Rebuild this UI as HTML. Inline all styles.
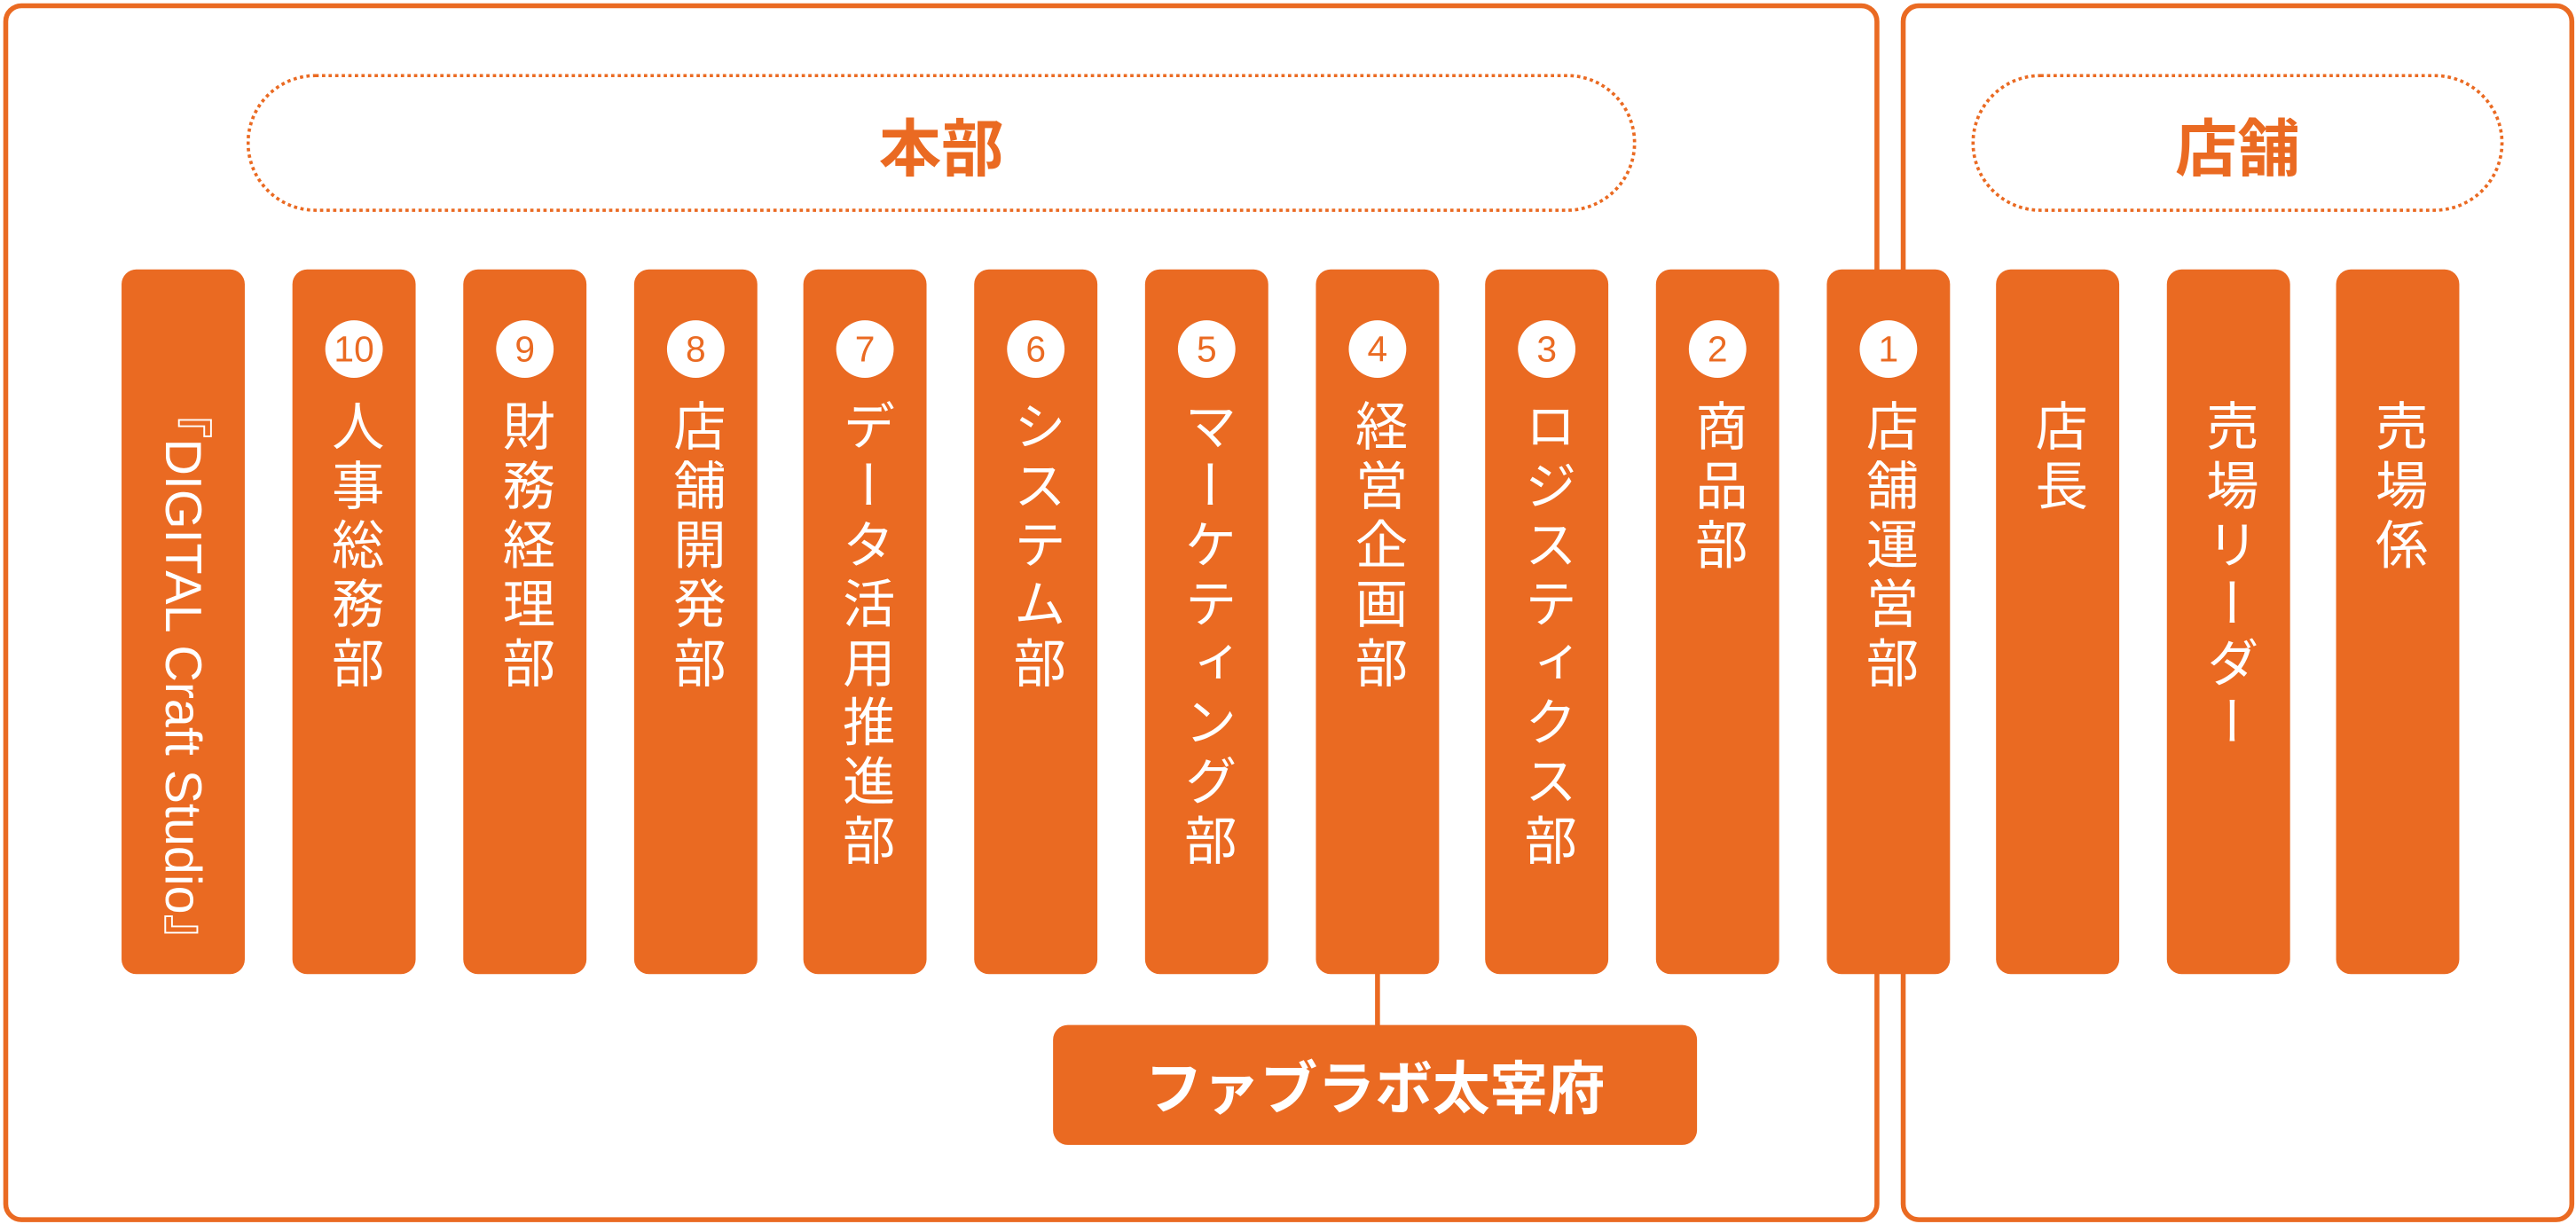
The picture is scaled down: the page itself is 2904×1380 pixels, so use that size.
<!DOCTYPE html>
<html><head><meta charset="utf-8"><style>
html,body{margin:0;padding:0;background:#fff;width:2904px;height:1380px;overflow:hidden}
#s{position:absolute;left:0;top:0;width:1568px;height:745px;transform:scale(1.8520);transform-origin:0 0;font-family:"Liberation Sans","Noto Sans CJK JP",sans-serif}
.box{position:absolute;border:3px solid #EA6A22;border-radius:11px;box-sizing:border-box}
.pill{position:absolute;border:2px dotted #EA6A22;border-radius:42px;box-sizing:border-box;color:#EA6A22;font-weight:bold;font-size:38px;display:flex;align-items:center;justify-content:center}
.col{position:absolute;top:164px;width:75px;height:429px;background:#EA6A22;border-radius:9px}
.num{position:absolute;left:20px;top:31px;width:35px;height:35px;border-radius:50%;background:#fff;color:#EA6A22;font-size:22px;line-height:35px;text-align:center}
.t{position:absolute;left:0;width:75px;top:79px;writing-mode:vertical-rl;color:#fff;font-size:32px;line-height:75px;letter-spacing:4px}
.lab{position:absolute;left:641px;top:624px;width:392px;height:73px;background:#EA6A22;border-radius:9px;color:#fff;font-weight:bold;font-size:35px;display:flex;align-items:center;justify-content:center}
</style></head><body><div id="s">
<div class="box" style="left:2px;top:2px;width:1142px;height:742px"></div>
<div class="box" style="left:1157px;top:2px;width:410px;height:742px"></div>
<div class="pill" style="left:150px;top:45px;width:846px;height:84px">本部</div>
<div class="pill" style="left:1200px;top:45px;width:324px;height:84px">店舗</div>
<div style="position:absolute;left:837px;top:590px;width:3px;height:36px;background:#EA6A22"></div>
<div class="col" style="left:74px"><div class="t" style="top:72px;font-size:31px;letter-spacing:0">『DIGITAL Craft Studio』</div></div>
<div class="col" style="left:178px"><div class="num">10</div><div class="t">人事総務部</div></div>
<div class="col" style="left:282px"><div class="num">9</div><div class="t">財務経理部</div></div>
<div class="col" style="left:386px"><div class="num">8</div><div class="t">店舗開発部</div></div>
<div class="col" style="left:489px"><div class="num">7</div><div class="t">データ活用推進部</div></div>
<div class="col" style="left:593px"><div class="num">6</div><div class="t">システム部</div></div>
<div class="col" style="left:697px"><div class="num">5</div><div class="t">マーケティング部</div></div>
<div class="col" style="left:801px"><div class="num">4</div><div class="t">経営企画部</div></div>
<div class="col" style="left:904px"><div class="num">3</div><div class="t">ロジスティクス部</div></div>
<div class="col" style="left:1008px"><div class="num">2</div><div class="t">商品部</div></div>
<div class="col" style="left:1112px"><div class="num">1</div><div class="t">店舗運営部</div></div>
<div class="col" style="left:1215px"><div class="t">店長</div></div>
<div class="col" style="left:1319px"><div class="t">売場リーダー</div></div>
<div class="col" style="left:1422px"><div class="t">売場係</div></div>
<div class="lab">ファブラボ太宰府</div>
</div></body></html>
